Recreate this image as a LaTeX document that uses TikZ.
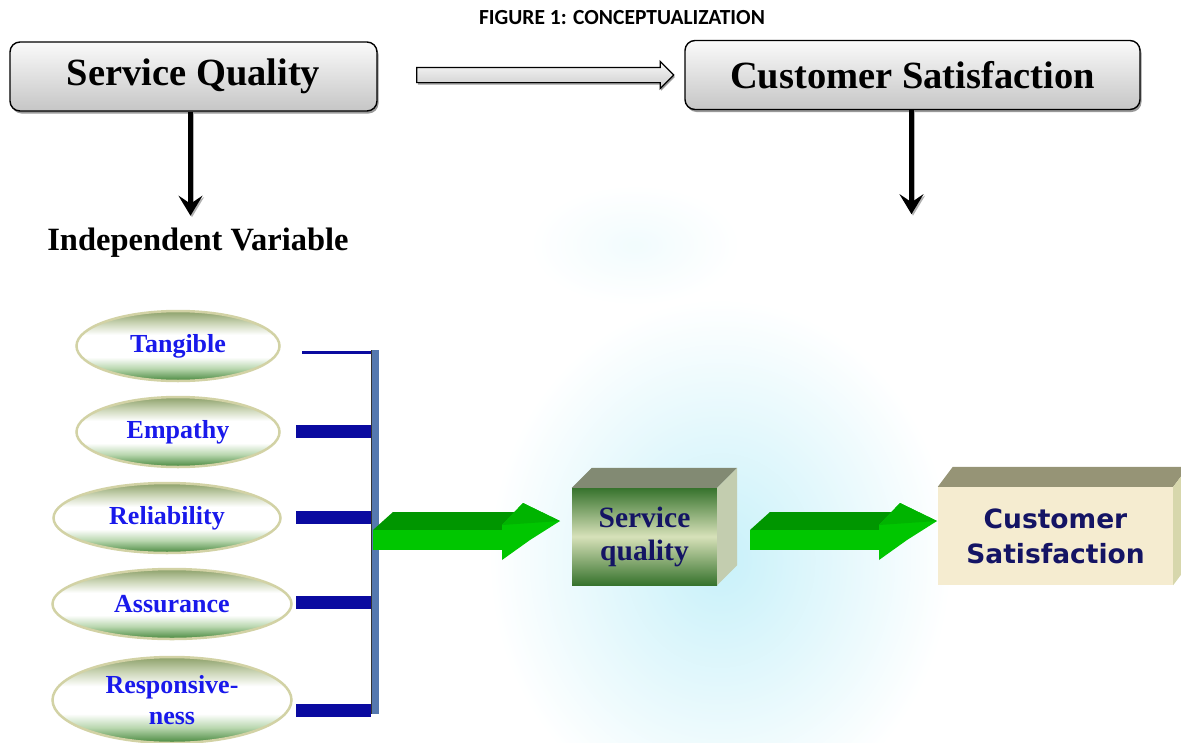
\documentclass[tikz,border=0pt]{standalone}
\usepackage{fontspec}
\setmainfont{Liberation Serif}
\newfontfamily\captionfont{Carlito}
\newfontfamily\blockfont{DejaVu Sans}
\usetikzlibrary{shapes.geometric,shapes.arrows,shadows,arrows.meta,calc,fadings}

\definecolor{rimgreen}{RGB}{70,135,60}
\definecolor{rimpale}{RGB}{185,215,175}
\definecolor{rimolive}{RGB}{140,160,105}
\definecolor{rimoliv2}{RGB}{205,215,185}
\definecolor{rimcream}{RGB}{210,210,165}
\definecolor{factorblue}{RGB}{25,25,235}
\definecolor{prongblue}{RGB}{10,10,160}
\definecolor{barblue}{RGB}{85,120,175}
\definecolor{arrowdark}{RGB}{0,150,0}
\definecolor{arrowmid}{RGB}{0,180,0}
\definecolor{arrowlight}{RGB}{0,198,0}
\definecolor{boxdark}{RGB}{55,115,45}
\definecolor{boxlight}{RGB}{215,225,185}
\definecolor{boxtop}{RGB}{130,138,115}
\definecolor{boxside}{RGB}{195,205,175}
\definecolor{beige}{RGB}{245,236,208}
\definecolor{beigetop}{RGB}{150,148,118}
\definecolor{beigeside}{RGB}{215,215,172}
\definecolor{navy}{RGB}{20,20,100}
\definecolor{haze}{RGB}{190,238,248}

% green band top and bottom, white in the middle
\pgfdeclareverticalshading{rim}{100bp}{color(0bp)=(rimgreen); color(25bp)=(rimgreen); color(34bp)=(rimpale); color(42bp)=(white); color(58bp)=(white); color(66bp)=(rimoliv2); color(75bp)=(rimolive); color(100bp)=(rimolive)}
\tikzfading[name=hazefade, inner color=transparent!15, outer color=transparent!100]

\tikzset{
  fatarrow/.pic={
    \fill[arrowdark] (0,0) -- (20,-18) -- (147,-18) -- (129,0) -- cycle;
    \fill[arrowlight] (0,0) rectangle (129,20);
    \fill[arrowlight] (129,-5) -- (150,-27) -- (187,-9) -- (157,10) -- (129,30) -- cycle;
    \fill[arrowmid] (129,-5) -- (150,-27) -- (187,-9) -- cycle;
  }
}

\begin{document}
\begin{tikzpicture}[x=1pt,y=-1pt,
  headbox/.style={rectangle, rounded corners=10pt, draw=black, line width=1.4pt,
    top color=gray!4, bottom color=gray!45, minimum height=69pt,
    drop shadow={shadow xshift=1.5pt, shadow yshift=-2.5pt, fill=gray!80, opacity=1},
    font=\fontsize{38.5}{40}\selectfont\bfseries},
  downarrow/.style={line width=4.5pt, -{Stealth[length=20pt,width=24pt,inset=8pt]}},
  factor/.style={ellipse, inner sep=0pt, minimum height=70pt, shading=rim,
    draw=rimcream, line width=2.5pt, text=factorblue, align=center,
    font=\fontsize{26}{31}\selectfont\bfseries},
  prong/.style={fill=prongblue},
  frontface/.style={rectangle, inner sep=0pt, align=center, text=navy}
]
\useasboundingbox (0,0) rectangle (1181,742);

% faint background wash
\fill[haze, path fading=hazefade] (490,300) rectangle (950,820);
\fill[haze!25, path fading=hazefade] (530,185) rectangle (740,305);

\node[font=\captionfont\bfseries\fontsize{21.5}{22}\selectfont] (title) at (622,18) {FIGURE 1: CONCEPTUALIZATION};

% top row
\node[headbox, minimum width=367pt] (sq) at (193.5,76.5) {Service Quality};
\node[headbox, minimum width=455pt] (cs) at (912.5,75) {Customer Satisfaction};
\node[single arrow, draw=black, line width=1.2pt, top color=gray!5, bottom color=gray!40,
  minimum height=257pt, inner sep=7pt, single arrow head extend=6pt,
  drop shadow={shadow xshift=1pt, shadow yshift=-2pt, fill=gray!80, opacity=1}] (link) at (541.5,75) {};

\coordinate (sqfoot) at ($(sq.south)+(-3,104)$);
\coordinate (csfoot) at ($(cs.south)+(-1,104)$);
\draw[downarrow, gray!60] ($(sq.south)+(-1.5,1.5)$) -- ($(sqfoot)+(1.5,1.5)$);
\draw[downarrow, gray!60] ($(cs.south)+(0.5,1.5)$) -- ($(csfoot)+(1.5,1.5)$);
\draw[downarrow] (sq.south -| sqfoot) -- (sqfoot);
\draw[downarrow] (cs.south -| csfoot) -- (csfoot);

\node[font=\fontsize{32.5}{34}\selectfont\bfseries] (iv) at (198,243) {Independent Variable};

% dimensions
\node[factor, minimum width=203pt] (tangible) at (178,346) {Tangible};
\node[factor, minimum width=203pt] (empathy) at (178,432) {Empathy};
\node[factor, minimum width=227pt] (reliability) at (167,518) {Reliability};
\node[factor, minimum width=239pt] (assurance) at (172,604) {Assurance};
\node[factor, minimum width=239pt, minimum height=86pt] (responsiveness) at (172,700) {Responsive-\\ness};

% bracket
\fill[barblue] (372,350) rectangle (379,714);
\draw[line width=1.2pt, black!80] (371.5,350) -- (371.5,714);
\draw[prongblue, line width=3pt] (302,352) -- (371,352);
\foreach \y in {431,517,602,710}
  \fill[prong] (296,\y-6.5) rectangle (371,\y+6.5);

% service quality block
\node[frontface, minimum width=145pt, minimum height=97pt,
  top color=boxdark, bottom color=boxdark, middle color=boxlight,
  font=\fontsize{29.5}{33}\selectfont\bfseries] (sqblock) at (644.5,536.5) {Service\\quality};
\fill[boxtop] (sqblock.north west) -- ++(20,-20) -- ($(sqblock.north east)+(20,-20)$) -- (sqblock.north east) -- cycle;
\fill[boxside] (sqblock.north east) -- ++(20,-20) -- ($(sqblock.south east)+(20,-20)$) -- (sqblock.south east) -- cycle;

% customer satisfaction block
\node[frontface, fill=beige, minimum width=235pt, minimum height=98pt,
  font=\blockfont\bfseries\fontsize{26.5}{35}\selectfont] (csblock) at (1055.5,536) {Customer\\Satisfaction};
\fill[beigetop] (csblock.north west) -- ++(15,-20) -- ($(csblock.north east)+(15,-20)$) -- (csblock.north east) -- cycle;
\fill[beigeside] (csblock.north east) -- ++(15,-20) -- ($(csblock.south east)+(15,-20)$) -- (csblock.south east) -- cycle;

% green arrows
\coordinate (bracketout) at (373,530);
\coordinate (blockout) at (750,530);
\pic at (bracketout) {fatarrow};
\pic at (blockout) {fatarrow};
\end{tikzpicture}
\end{document}
